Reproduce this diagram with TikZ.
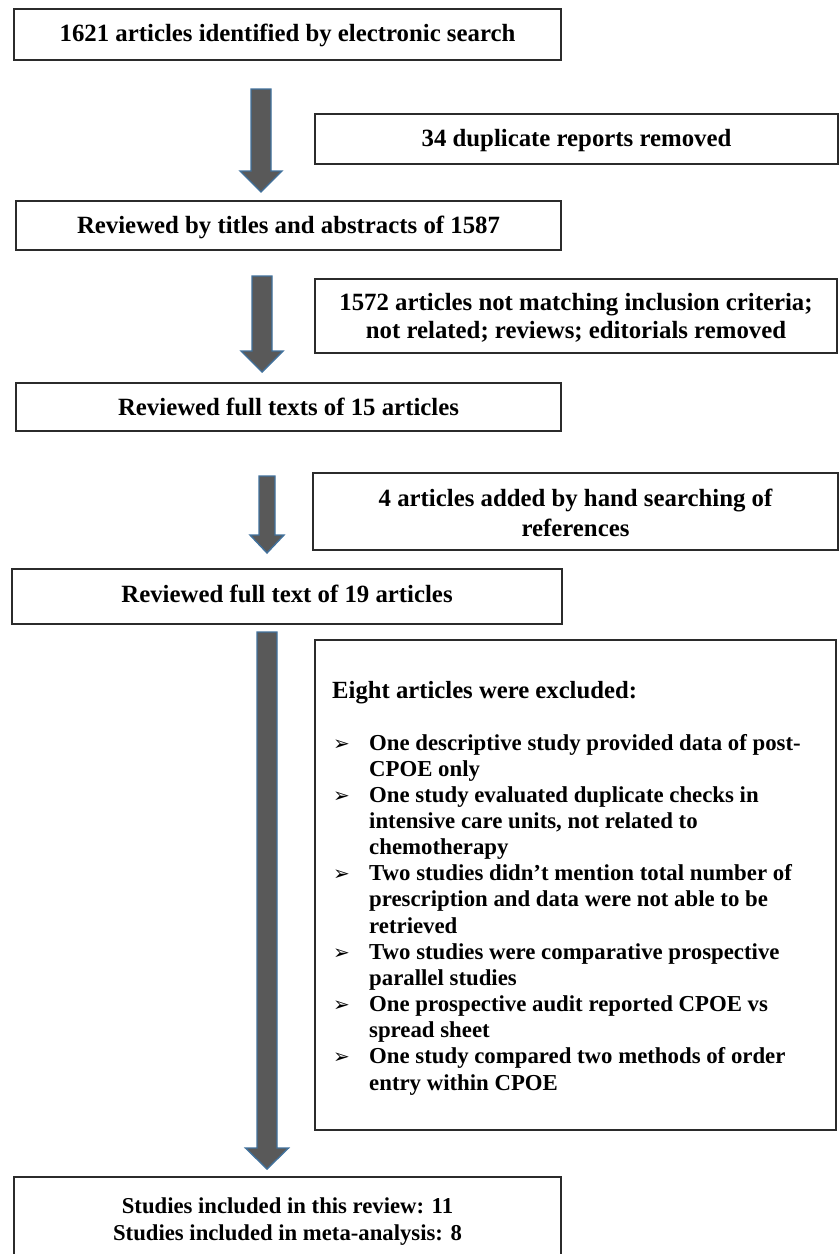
\documentclass[tikz,border=0pt]{standalone}
\usepackage{fontspec}
\setmainfont{Liberation Serif}
\newfontfamily\dejavufont{DejaVu Sans}
\definecolor{arrowgray}{HTML}{595959}
\definecolor{arrowblue}{HTML}{41719C}
\definecolor{boxline}{HTML}{2B2B2B}
\newcommand\blockarrow[6]{% cx, top, headstart, tip, shafthalf, headhalf
  \filldraw[barrow] ({#1-#5},#2) -- ({#1+#5},#2) -- ({#1+#5},#3) -- ({#1+#6},#3)
    -- (#1,#4) -- ({#1-#6},#3) -- ({#1-#5},#3) -- cycle;}
\begin{document}
\begin{tikzpicture}[x=1pt,y=-1pt,
  box/.style={draw=boxline, line width=1.2pt, inner sep=0pt, fill=white},
  btxt/.style={font=\fontsize{24.8}{28}\selectfont\bfseries, inner sep=0pt, anchor=base},
  htxt/.style={font=\fontsize{24.7}{28}\selectfont\bfseries, inner sep=0pt, anchor=base west},
  ltxt/.style={font=\fontsize{22.8}{26}\selectfont\bfseries, inner sep=0pt, anchor=base west},
  stxt/.style={font=\fontsize{22.7}{26}\selectfont\bfseries, inner sep=0pt, anchor=base},
  bul/.style={font=\fontsize{20}{20}\selectfont\dejavufont, inner sep=0pt, anchor=base west},
  barrow/.style={fill=arrowgray, draw=arrowblue, line width=1.4pt, line join=miter}
]
\useasboundingbox (0,0) rectangle (840,1254);
\clip (0,0) rectangle (840,1254);
\fill[white] (0,0) rectangle (840,1254);

% boxes
\node[box, minimum width=547pt, minimum height=51pt] (b1) at (287.5,34.5) {};
\node[box, minimum width=523pt, minimum height=50pt] (d1) at (576.5,139) {};
\node[box, minimum width=545pt, minimum height=49pt] (b2) at (288.5,225.5) {};
\node[box, minimum width=522pt, minimum height=74pt] (d2) at (576,316) {};
\node[box, minimum width=545pt, minimum height=48pt] (b3) at (288.5,407) {};
\node[box, minimum width=525pt, minimum height=77pt] (d3) at (575.5,511.5) {};
\node[box, minimum width=550pt, minimum height=55pt] (b4) at (287,596.5) {};
\node[box, minimum width=521pt, minimum height=490pt] (d4) at (575.5,885) {};
\node[box, minimum width=547pt, minimum height=93pt] (b5) at (287.5,1223.5) {};

% arrows
\blockarrow{261}{89}{171}{192}{10}{21}
\blockarrow{262}{276}{351}{372}{10}{21}
\blockarrow{267}{476}{535}{553}{8}{17}
\blockarrow{267}{632}{1148}{1169}{10}{21.5}

% box texts
\node[btxt] (t1) at (287.5,41.7) {1621 articles identified by electronic search};
\node[btxt] (t2) at (576.5,146.5) {34 duplicate reports removed};
\node[btxt] (t3) at (288.5,233.5) {Reviewed by titles and abstracts of 1587};
\node[btxt] (t4a) at (576,310) {1572 articles not matching inclusion criteria;};
\node[btxt] (t4b) at (576,338) {not related; reviews; editorials removed};
\node[btxt] (t5) at (288.5,415) {Reviewed full texts of 15 articles};
\node[btxt] (t6a) at (575.5,506) {4 articles added by hand searching of};
\node[btxt] (t6b) at (575.5,536.5) {references};
\node[btxt] (t7) at (287,602) {Reviewed full text of 19 articles};

% exclusion box
\node[htxt] (h8) at (332,698) {Eight articles were excluded:};
\node[bul] (u1) at (333,750) {➢};
\node[ltxt] (l1) at (369,750) {One descriptive study provided data of post-};
\node[ltxt] (l2) at (369,776.15) {CPOE only};
\node[bul] (u2) at (333,802.3) {➢};
\node[ltxt] (l3) at (369,802.3) {One study evaluated duplicate checks in};
\node[ltxt] (l4) at (369,828.45) {intensive care units, not related to};
\node[ltxt] (l5) at (369,854.6) {chemotherapy};
\node[bul] (u3) at (333,880.75) {➢};
\node[ltxt] (l6) at (369,880.75) {Two studies didn’t mention total number of};
\node[ltxt] (l7) at (369,906.9) {prescription and data were not able to be};
\node[ltxt] (l8) at (369,933.05) {retrieved};
\node[bul] (u4) at (333,959.2) {➢};
\node[ltxt] (l9) at (369,959.2) {Two studies were comparative prospective};
\node[ltxt] (l10) at (369,985.35) {parallel studies};
\node[bul] (u5) at (333,1011.5) {➢};
\node[ltxt] (l11) at (369,1011.5) {One prospective audit reported CPOE vs};
\node[ltxt] (l12) at (369,1037.65) {spread sheet};
\node[bul] (u6) at (333,1063.8) {➢};
\node[ltxt] (l13) at (369,1063.8) {One study compared two methods of order};
\node[ltxt] (l14) at (369,1090) {entry within CPOE};

% final box
\node[stxt] (f1) at (287.5,1213) {Studies included in this review: 11};
\node[stxt] (f2) at (287.5,1240) {Studies included in meta-analysis: 8};
\end{tikzpicture}
\end{document}
